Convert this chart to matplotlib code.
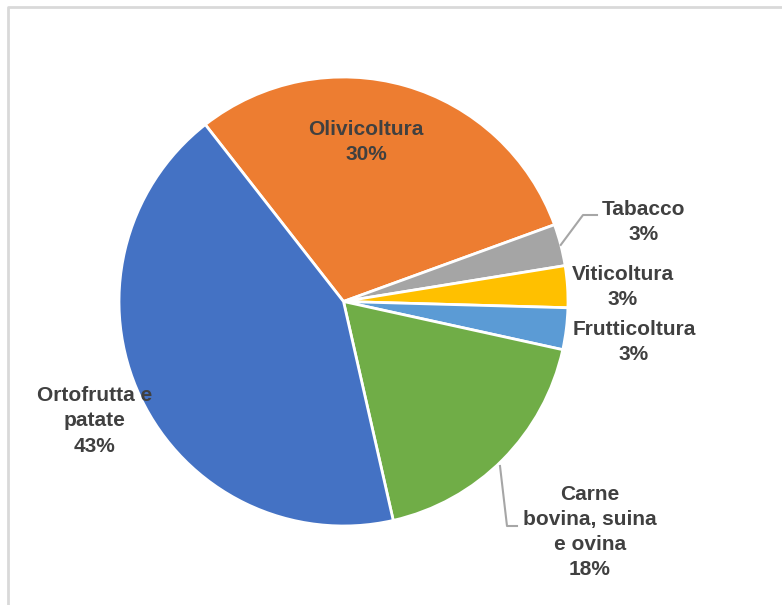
import numpy as np
import matplotlib
matplotlib.use("Agg")
import matplotlib.pyplot as plt
from matplotlib.lines import Line2D

# Sector shares (%), listed clockwise starting from Olivicoltura
categories = ["Olivicoltura", "Tabacco", "Viticoltura", "Frutticoltura",
              "Carne\nbovina, suina\ne ovina", "Ortofrutta e\npatate"]
values = [30, 3, 3, 3, 18, 43]
colors = ["#ED7D31", "#A5A5A5", "#FFC000", "#5B9BD5", "#70AD47", "#4472C4"]

W, H = 782, 605
fig = plt.figure(figsize=(W / 100, H / 100), dpi=100)
ax = fig.add_axes([0, 0, 1, 1])

cx, cy, r = 343.5, H - 301.5, 224.5
wedges, _ = ax.pie(values, colors=colors, startangle=128, counterclock=False,
                   center=(cx, cy), radius=r, frame=True,
                   wedgeprops=dict(edgecolor="white", linewidth=2))
ax.set_xlim(0, W)
ax.set_ylim(0, H)
ax.axis("off")

# Label block centres (pixel layout, y measured from top)
label_pos = [(366, 142), (644, 222), (623, 287), (634, 342), (590, 532), (95, 421)]
for name, val, (lx, ly) in zip(categories, values, label_pos):
    ax.text(lx, H - ly, f"{name}\n{val}%", ha="center", va="center",
            family="Liberation Sans", weight="bold", fontsize=15,
            color="#404040", linespacing=1.42, zorder=5)

# Leader lines for the Tabacco and Carne labels
def rim_point(w, frac=1.0):
    t = np.deg2rad((w.theta1 + w.theta2) / 2)
    return cx + frac * r * np.cos(t), cy + frac * r * np.sin(t)

leader = "#A6A6A6"
x0, y0 = rim_point(wedges[1])
ax.add_line(Line2D([x0, 583, 597], [y0, H - 215, H - 215], color=leader, lw=1.5))
ax.add_line(Line2D([500, 507, 517], [H - 466, H - 526, H - 526], color=leader, lw=1.5))

# Light chart-area border along the top and left edges
fig.add_artist(Line2D([7.5 / W, 7.5 / W, 1.0], [0.0, 1 - 6.5 / H, 1 - 6.5 / H],
                      transform=fig.transFigure, color="#D9D9D9", lw=2))

fig.savefig("out.png", dpi=100, facecolor="white")
